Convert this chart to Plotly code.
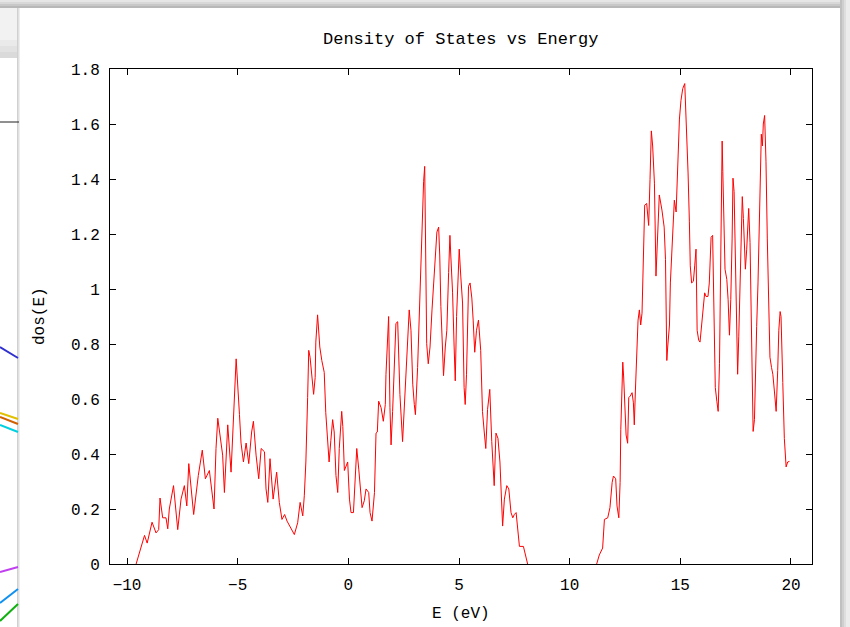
import plotly.graph_objects as go

# Density of states sampled along the energy axis (None marks the band gap break)
energy_ev = [
    -9.59, -9.21, -9.09, -8.87, -8.69, -8.57, -8.51, -8.39, -8.24, -8.16, -8.09, -7.90, -7.71, -7.56,
    -7.41, -7.30, -7.21, -6.99, -6.78, -6.60, -6.46, -6.28, -6.07, -5.98, -5.90, -5.68, -5.60, -5.45,
    -5.30, -5.07, -4.92, -4.85, -4.74, -4.62, -4.50, -4.37, -4.29, -4.17, -4.05, -3.94, -3.79, -3.72,
    -3.64, -3.54, -3.40, -3.24, -3.12, -3.00, -2.88, -2.77, -2.44, -2.29, -2.18, -2.06, -1.99, -1.92,
    -1.84, -1.79, -1.73, -1.61, -1.57, -1.50, -1.47, -1.39, -1.35, -1.29, -1.20, -1.09, -1.02, -0.94,
    -0.87, -0.79, -0.71, -0.64, -0.56, -0.48, -0.41, -0.30, -0.25, -0.18, -0.10, -0.03, 0.05, 0.12,
    0.23, 0.30, 0.38, 0.47, 0.53, 0.62, 0.72, 0.80, 0.92, 0.98, 1.07, 1.18, 1.25, 1.31, 1.37, 1.48,
    1.58, 1.67, 1.70, 1.78, 1.82, 1.88, 1.93, 2.00, 2.08, 2.15, 2.23, 2.27, 2.33, 2.45, 2.53, 2.60,
    2.68, 2.75, 2.83, 2.91, 2.98, 3.03, 3.13, 3.21, 3.28, 3.36, 3.40, 3.45, 3.48, 3.54, 3.61, 3.69,
    3.78, 3.84, 3.93, 4.00, 4.08, 4.13, 4.18, 4.26, 4.30, 4.38, 4.45, 4.53, 4.59, 4.63, 4.71, 4.78,
    4.83, 4.89, 4.95, 5.01, 5.08, 5.16, 5.23, 5.28, 5.34, 5.43, 5.50, 5.58, 5.64, 5.71, 5.79, 5.88,
    5.98, 6.06, 6.14, 6.21, 6.29, 6.39, 6.48, 6.59, 6.67, 6.76, 6.85, 6.90, 6.97, 7.05, 7.16, 7.25,
    7.35, 7.43, 7.50, 7.58, 7.65, 7.73, 7.91, 8.03, 8.10,
    None,
    11.22, 11.34, 11.49, 11.57, 11.72, 11.82, 11.92, 11.98, 12.08, 12.14, 12.22, 12.28, 12.31, 12.35,
    12.40, 12.44, 12.49, 12.55, 12.62, 12.67, 12.74, 12.82, 12.88, 12.92, 12.97, 13.03, 13.09, 13.15,
    13.21, 13.27, 13.33, 13.39, 13.48, 13.57, 13.63, 13.69, 13.75, 13.83, 13.90, 13.96, 14.01, 14.05,
    14.17, 14.27, 14.33, 14.39, 14.43, 14.51, 14.55, 14.63, 14.69, 14.73, 14.81, 14.90, 14.96, 15.03,
    15.11, 15.20, 15.23, 15.29, 15.35, 15.41, 15.45, 15.51, 15.59, 15.65, 15.71, 15.76, 15.83, 15.89,
    15.97, 16.04, 16.10, 16.16, 16.25, 16.31, 16.39, 16.46, 16.49, 16.54, 16.58, 16.65, 16.71, 16.77,
    16.81, 16.84, 16.89, 16.92, 16.96, 17.02, 17.10, 17.16, 17.22, 17.28, 17.34, 17.38, 17.43, 17.49,
    17.55, 17.59, 17.64, 17.68, 17.74, 17.80, 17.85, 17.90, 17.94, 18.00, 18.05, 18.09, 18.15, 18.20,
    18.24, 18.29, 18.35, 18.39, 18.45, 18.51, 18.57, 18.62, 18.66, 18.71, 18.75, 18.81, 18.87, 18.93,
    18.99, 19.05, 19.12, 19.18, 19.25, 19.33, 19.40, 19.45, 19.51, 19.55, 19.63, 19.70, 19.78, 19.85,
    19.93,
]

dos_values = [
    0.000, 0.104, 0.076, 0.152, 0.113, 0.125, 0.240, 0.168, 0.168, 0.128, 0.200, 0.285, 0.125, 0.236,
    0.285, 0.211, 0.365, 0.180, 0.322, 0.414, 0.310, 0.340, 0.200, 0.420, 0.530, 0.396, 0.260, 0.506,
    0.334, 0.746, 0.543, 0.440, 0.371, 0.440, 0.365, 0.480, 0.519, 0.396, 0.310, 0.420, 0.408, 0.273,
    0.224, 0.383, 0.236, 0.334, 0.224, 0.162, 0.180, 0.156, 0.107, 0.150, 0.224, 0.175, 0.248, 0.371,
    0.605, 0.777, 0.752, 0.630, 0.617, 0.678, 0.807, 0.906, 0.863, 0.789, 0.740, 0.697, 0.550, 0.433,
    0.371, 0.450, 0.525, 0.480, 0.322, 0.260, 0.420, 0.555, 0.500, 0.340, 0.360, 0.371, 0.236, 0.187,
    0.187, 0.310, 0.420, 0.345, 0.285, 0.205, 0.230, 0.273, 0.260, 0.187, 0.156, 0.260, 0.476, 0.480,
    0.592, 0.568, 0.519, 0.580, 0.690, 0.814, 0.900, 0.568, 0.433, 0.555, 0.765, 0.875, 0.881, 0.728,
    0.617, 0.445, 0.580, 0.703, 0.789, 0.924, 0.850, 0.654, 0.580, 0.543, 0.715, 0.924, 1.133, 1.280,
    1.390, 1.446, 1.133, 0.801, 0.728, 0.789, 0.924, 1.010, 1.108, 1.207, 1.225, 1.120, 0.937, 0.765,
    0.685, 0.789, 0.850, 1.060, 1.195, 1.120, 0.986, 0.789, 0.666, 0.900, 1.070, 1.145, 1.047, 0.949,
    0.642, 0.580, 0.690, 1.010, 1.022, 0.967, 0.887, 0.770, 0.850, 0.887, 0.777, 0.555, 0.480, 0.420,
    0.562, 0.635, 0.445, 0.285, 0.476, 0.457, 0.371, 0.248, 0.138, 0.236, 0.285, 0.273, 0.187, 0.168,
    0.180, 0.187, 0.125, 0.064, 0.064, 0.027, 0.000,
    None,
    0.000, 0.033, 0.058, 0.162, 0.168, 0.205, 0.297, 0.320, 0.310, 0.211, 0.168, 0.297, 0.488, 0.654,
    0.734, 0.680, 0.592, 0.469, 0.439, 0.605, 0.611, 0.623, 0.586, 0.506, 0.629, 0.801, 0.887, 0.924,
    0.869, 0.912, 1.108, 1.305, 1.311, 1.231, 1.397, 1.575, 1.520, 1.385, 1.047, 1.158, 1.268, 1.342,
    1.287, 1.225, 1.108, 0.740, 0.789, 0.869, 1.022, 1.145, 1.262, 1.323, 1.280, 1.477, 1.618, 1.686,
    1.729, 1.747, 1.686, 1.575, 1.422, 1.244, 1.084, 1.022, 1.028, 1.084, 1.145, 0.850, 0.814, 0.807,
    0.887, 0.943, 0.986, 0.973, 0.973, 1.022, 1.188, 1.195, 1.060, 0.801, 0.642, 0.592, 0.555, 0.728,
    1.060, 1.391, 1.538, 1.428, 1.219, 1.072, 1.035, 0.961, 0.832, 0.961, 1.182, 1.403, 1.354, 1.084,
    0.801, 0.690, 0.826, 0.986, 1.108, 1.336, 1.256, 1.145, 1.072, 1.145, 1.219, 1.293, 1.170, 0.961,
    0.672, 0.482, 0.525, 0.703, 0.863, 1.022, 1.280, 1.465, 1.563, 1.520, 1.600, 1.631, 1.465, 1.182,
    0.900, 0.752, 0.715, 0.690, 0.629, 0.555, 0.703, 0.850, 0.918, 0.900, 0.660, 0.457, 0.353, 0.371,
    0.373,
]

x_ticks = [-10, -5, 0, 5, 10, 15, 20]
y_ticks = [0, 0.2, 0.4, 0.6, 0.8, 1.0, 1.2, 1.4, 1.6, 1.8]

FONT = "Liberation Mono"
W, H = 850, 627
L, R, T, B = 110, 38, 69, 63
PW, PH = W - L - R, H - T - B


def px(xp):
    return (xp - L) / PW


def py(yp):
    return (H - B - yp) / PH


fig = go.Figure()
fig.add_trace(go.Scatter(
    x=energy_ev, y=dos_values, mode="lines", connectgaps=False,
    line=dict(color="#ff0000", width=1), hoverinfo="skip", showlegend=False,
))

axis_common = dict(
    showgrid=False, zeroline=False, showline=True, linecolor="black", linewidth=1,
    mirror="allticks", ticks="inside", ticklen=6, tickcolor="black", tickwidth=1,
    tickfont=dict(family=FONT, size=16, color="black"), layer="above traces",
)

fig.update_xaxes(range=[-10.77, 20.95], tickvals=x_ticks, ticklabelstandoff=6, **axis_common)
fig.update_yaxes(range=[0, 1.8], tickvals=y_ticks, ticklabelstandoff=6, **axis_common)

shapes = []
# grey desktop behind the windows: top band and right edge shadow
for i, c in enumerate(["#b8b8b8", "#c8c8c8", "#d8d8d8", "#e6e6e6"]):
    shapes.append(dict(type="rect", xref="paper", yref="paper", layer="below",
                       x0=px(0), x1=px(W), y0=py(8 - 2 * i), y1=py(0),
                       fillcolor=c, line=dict(width=0)))
for i, c in enumerate(["#c0c0c0", "#cfcfcf", "#dedede", "#ececec"]):
    shapes.append(dict(type="rect", xref="paper", yref="paper", layer="below",
                       x0=px(840 + 2 * i), x1=px(W), y0=py(H), y1=py(0),
                       fillcolor=c, line=dict(width=0)))
# window behind on the left: its header strip and contents
for i, c in enumerate(["#dadada", "#e2e2e2", "#eaeaea", "#f2f2f2"]):
    shapes.append(dict(type="rect", xref="paper", yref="paper", layer="below",
                       x0=px(0), x1=px(19), y0=py(58 - 6 * i), y1=py(8),
                       fillcolor=c, line=dict(width=0)))
shapes.append(dict(type="line", xref="paper", yref="paper",
                   x0=px(0), x1=px(19), y0=py(122), y1=py(122),
                   line=dict(color="#202020", width=1)))
for (y0, y1, col) in [(347, 358, "#3030d0"), (413, 419, "#e0c000"), (417, 424, "#d06000"),
                      (425, 432, "#00d0e0"), (572, 567, "#c040f0"), (603, 589, "#1090f0"),
                      (621, 604, "#10b010")]:
    shapes.append(dict(type="line", xref="paper", yref="paper",
                       x0=px(0), x1=px(18), y0=py(y0), y1=py(y1),
                       line=dict(color=col, width=2)))
# soft shadow along the left edge of the front window
for i, c in enumerate(["#d0d0d0", "#e0e0e0", "#eeeeee"]):
    shapes.append(dict(type="rect", xref="paper", yref="paper", layer="below",
                       x0=px(17 + i), x1=px(18 + i), y0=py(H), y1=py(8),
                       fillcolor=c, line=dict(width=0)))

annotations = [
    dict(text="Density of States vs Energy", xref="paper", yref="paper",
         x=px(460), y=py(39), xanchor="center", yanchor="middle", showarrow=False,
         font=dict(family=FONT, size=17, color="black")),
    dict(text="E (eV)", xref="paper", yref="paper",
         x=px(461), y=py(614), xanchor="center", yanchor="middle", showarrow=False,
         font=dict(family=FONT, size=16, color="black")),
    dict(text="dos(E)", xref="paper", yref="paper", textangle=-90,
         x=px(40), y=py(316), xanchor="center", yanchor="middle", showarrow=False,
         font=dict(family=FONT, size=16, color="black")),
]

fig.update_layout(
    width=W, height=H, margin=dict(l=L, r=R, t=T, b=B, pad=0),
    paper_bgcolor="white", plot_bgcolor="white",
    shapes=shapes, annotations=annotations,
)

fig.write_html("out.html")
